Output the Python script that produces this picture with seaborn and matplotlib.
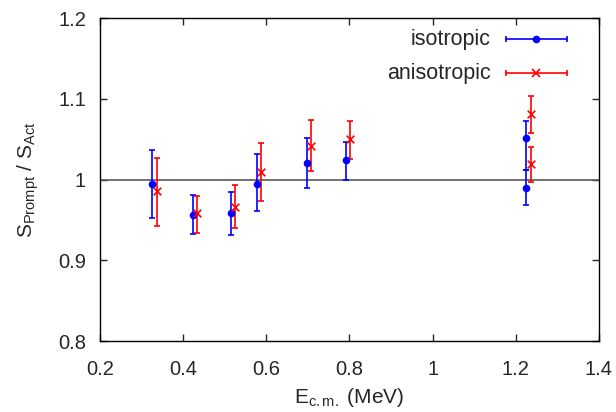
#!/usr/bin/env python

import numpy as np
import pandas as pd
import matplotlib.pyplot as plt
import matplotlib as mpl
import seaborn as sns

sns.set_style('ticks')
mpl.rcParams['font.family'] = ['Liberation Sans', 'DejaVu Sans']
mpl.rcParams['mathtext.fontset'] = 'custom'
mpl.rcParams['mathtext.rm'] = 'Liberation Sans'
mpl.rcParams['mathtext.it'] = 'Liberation Sans'
fs = 14.5

# isotropic
iso_e = [0.325, 0.423, 0.515, 0.578, 0.698, 0.791, 1.225, 1.225]
iso_s = [0.995, 0.956, 0.958, 0.995, 1.021, 1.024, 1.051, 0.990]
iso_hi = [1.036, 0.981, 0.984, 1.031, 1.052, 1.047, 1.073, 1.012]
iso_lo = [0.952, 0.932, 0.931, 0.961, 0.989, 1.000, 1.012, 0.969]

# anisotropic
ani_e = [0.336, 0.433, 0.525, 0.588, 0.707, 0.801, 1.236, 1.236]
ani_s = [0.986, 0.958, 0.966, 1.009, 1.042, 1.050, 1.081, 1.019]
ani_hi = [1.027, 0.980, 0.993, 1.045, 1.074, 1.073, 1.104, 1.040]
ani_lo = [0.943, 0.934, 0.940, 0.974, 1.010, 1.025, 1.057, 0.997]

xticks = [0.2, 0.4, 0.6, 0.8, 1.0, 1.2, 1.4]
xticklabels = ['0.2', '0.4', '0.6', '0.8', '1', '1.2', '1.4']
yticks = [0.8, 0.9, 1.0, 1.1, 1.2]
yticklabels = ['0.8', '0.9', '1', '1.1', '1.2']

fig = plt.figure(figsize=(6.16, 4.12), dpi=100)
ax = fig.add_axes([0.1623, 0.1723, 0.8101, 0.7840])

ax.axhline(1.0, color='0.35', lw=1.2, zorder=1)

series = [
    ('isotropic', iso_e, iso_s, iso_lo, iso_hi, 'blue', 'o', 5.5),
    ('anisotropic', ani_e, ani_s, ani_lo, ani_hi, 'red', 'x', 5.5),
]

for name, e, s, lo, hi, col, mk, ms in series:
    s_arr = np.array(s)
    yerr = [s_arr - np.array(lo), np.array(hi) - s_arr]
    ax.errorbar(e, s, yerr=yerr, fmt='none', ecolor=col, elinewidth=1.2,
                capsize=2.3, capthick=1.2, zorder=2)
    df = pd.DataFrame({'e': e, 's': s})
    if mk == 'o':
        sns.scatterplot(data=df, x='e', y='s', ax=ax, color=col, marker=mk,
                        s=ms ** 2, edgecolor=col, linewidth=0, zorder=3)
    else:
        sns.scatterplot(data=df, x='e', y='s', ax=ax, color=col, marker=mk,
                        s=ms ** 2, linewidth=1.2, zorder=3)

# gnuplot style key: text right aligned, horizontal sample with caps
key_y = [0.934, 0.829]
for (name, e, s, lo, hi, col, mk, ms), ky in zip(series, key_y):
    ax.text(0.783, ky, name, transform=ax.transAxes, ha='right', va='center',
            fontsize=fs + 1)
    ax.plot([0.8136, 0.935], [ky, ky], transform=ax.transAxes, color=col,
            lw=1.2)
    ax.plot([0.8136, 0.935], [ky, ky], transform=ax.transAxes, color=col,
            lw=0, marker='|', ms=5, mew=1.2)
    ax.plot([0.8743], [ky], transform=ax.transAxes, color=col, lw=0,
            marker=mk, ms=ms, mew=1.2 if mk == 'x' else 0)

ax.set_xlim(0.2, 1.4)
ax.set_ylim(0.8, 1.2)
ax.set_xticks(xticks)
ax.set_xticklabels(xticklabels)
ax.set_yticks(yticks)
ax.set_yticklabels(yticklabels)
ax.tick_params(direction='in', top=True, right=True, length=5, width=1,
               labelsize=fs, pad=10)
ax.tick_params(axis='x', pad=13.5)
for sp in ax.spines.values():
    sp.set_visible(True)
    sp.set_linewidth(1.0)
    sp.set_color('black')

ax.set_xlabel(r'$\mathregular{E_{c.m.}}$ (MeV)', fontsize=fs + 0.5,
              labelpad=5)
ax.set_ylabel(r'$\mathregular{S_{Prompt}\ /\ S_{Act}}$', fontsize=fs + 0.5)
ax.yaxis.set_label_coords(-0.118, 0.5)

fig.savefig('out.png', dpi=100)
plt.close(fig)
